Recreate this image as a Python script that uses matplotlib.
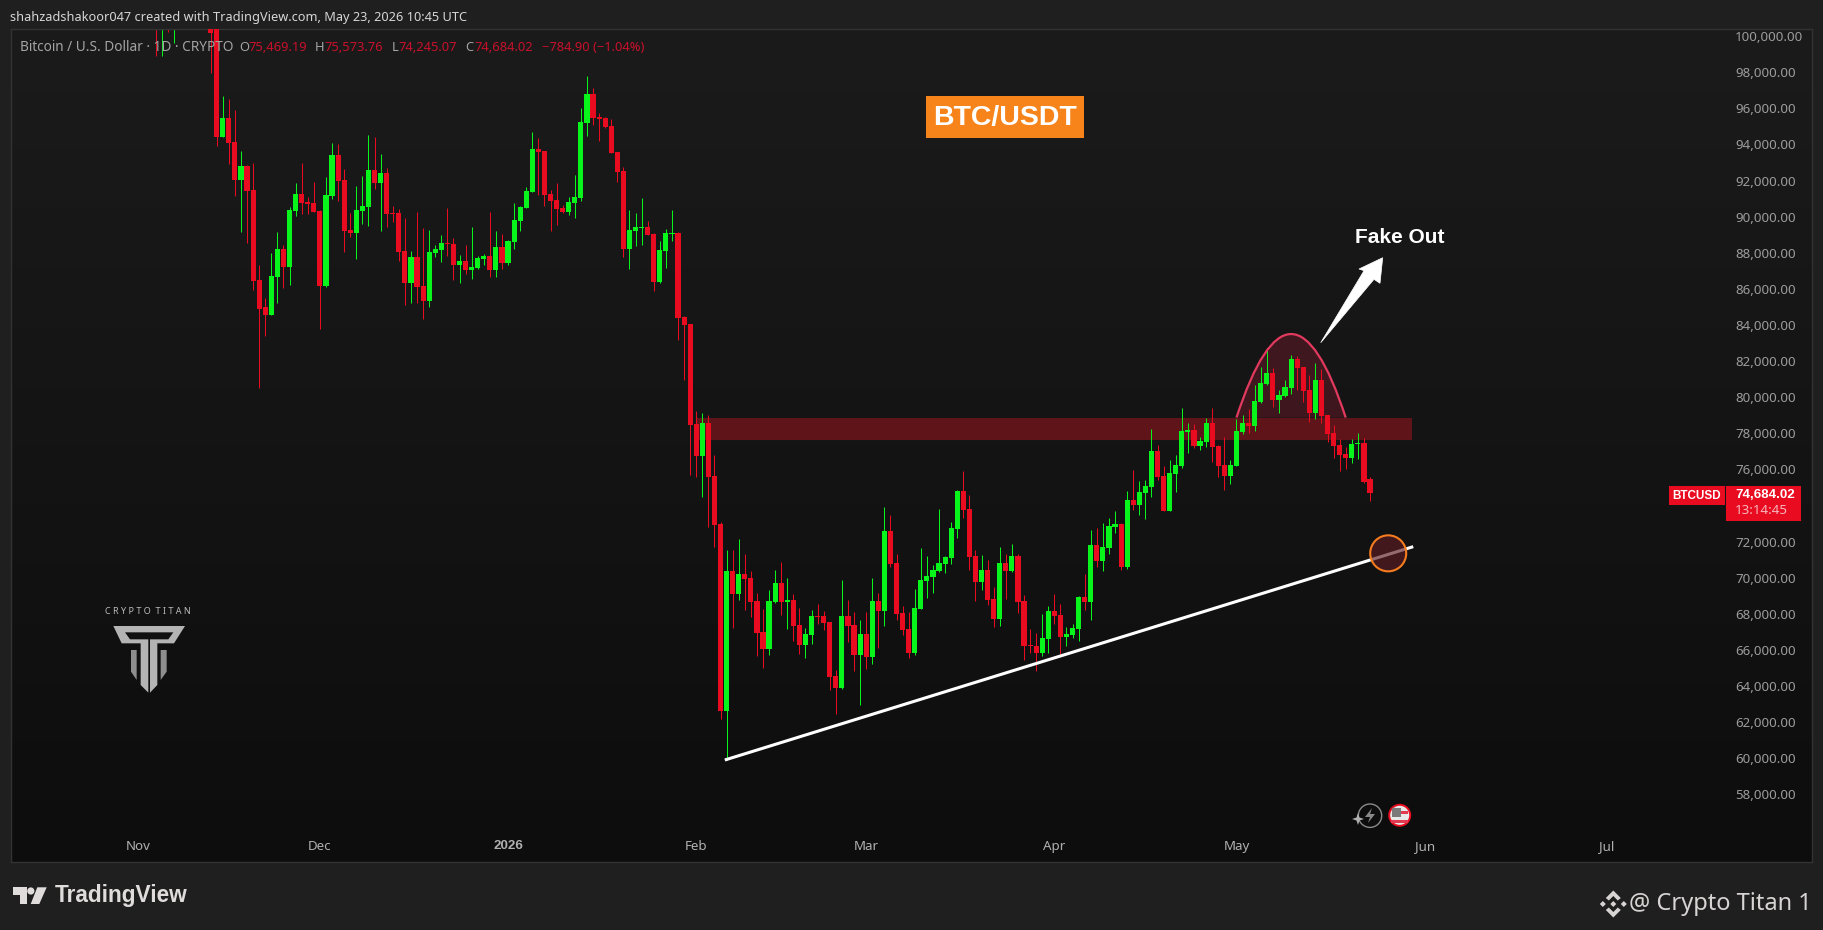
#!/usr/bin/env python
"""BTC daily candles with the fake out annotations, TradingView dark look."""

import numpy as np
import pandas as pd
import matplotlib
matplotlib.use("Agg")
import matplotlib.pyplot as plt
import matplotlib.dates as mdates
from matplotlib.patches import Circle, Ellipse, PathPatch, Polygon, Rectangle
from matplotlib.path import Path

plt.rcParams["font.family"] = ["Noto Sans", "DejaVu Sans"]
BOLD = {"family": "Liberation Sans", "fontweight": "bold"}

FIRST_DAY = "2025-11-04"

OPEN = [
    106500, 101500, 103900, 101300, 103300, 102300, 104700, 105900, 103000, 101700,
    100500, 94410, 95470, 94140, 92030, 92810, 91480, 86490, 85000, 84550,
    86660, 88210, 87210, 90310, 91260, 90810, 90760, 90310, 86160, 91150,
    93420, 92030, 89260, 89100, 90310, 90540, 92590, 91870, 92420, 90200,
    90200, 88100, 86320, 87770, 86160, 85330, 87990, 88150, 88540, 88490,
    87320, 87540, 87050, 87160, 87650, 87820, 87050, 88320, 87430, 88600,
    89760, 90480, 91370, 93750, 93640, 91260, 90920, 90480, 90260, 90760,
    91030, 95190, 96800, 95520, 95470, 95020, 93580, 92530, 88210, 89210,
    89370, 89430, 89040, 86380, 88100, 89040, 89100, 84440, 84050, 78520,
    76760, 78570, 75630, 72970, 62610, 70370, 69100, 70200, 69980, 68710,
    66990, 66050, 68650, 69710, 68650, 68760, 67380, 66270, 66820, 67880,
    67880, 67540, 64550, 63890, 67880, 67380, 65720, 66880, 65610, 68710,
    68150, 72590, 70810, 68040, 67160, 65830, 68260, 69820, 70040, 70370,
    70760, 71090, 72700, 74800, 73810, 71200, 69760, 70430, 68820, 67710,
    70810, 70370, 71200, 68710, 66270, 66220, 65830, 66600, 68150, 67930,
    66710, 66820, 67160, 68930, 68650, 71810, 70920, 71650, 72810, 72980,
    70590, 74300, 74030, 74690, 75030, 77020, 75630, 73700, 75750, 76190,
    78070, 78180, 77290, 77520, 78570, 77290, 76240, 75630, 76190, 78070,
    78570, 78400, 79730, 80730, 81340, 79840, 80070, 80510, 82120, 81670,
    80400, 79120, 80950, 79010, 78020, 77350, 76850, 76630, 77410, 77460,
    75469.19,
]
HIGH = [
    107300, 104500, 104100, 104000, 103400, 104800, 106600, 107500, 105300, 104000,
    101000, 96690, 96500, 95910, 93640, 92860, 92970, 87320, 85490, 87990,
    89150, 88430, 90540, 91870, 92970, 91090, 91920, 90370, 92200, 94080,
    94030, 92640, 90200, 91700, 92250, 94530, 94410, 93470, 92700, 90590,
    90430, 89930, 88100, 90260, 89370, 89260, 88430, 88980, 90480, 88820,
    87880, 88430, 89430, 87820, 87930, 90260, 89210, 89040, 88710, 90760,
    90590, 91640, 94690, 94360, 93640, 91480, 91870, 90650, 91090, 92310,
    96020, 97790, 97130, 95740, 95520, 95410, 93580, 92750, 90370, 90200,
    91030, 89760, 89100, 88650, 89320, 90370, 89150, 84500, 84050, 79240,
    79130, 79010, 76800, 73090, 71530, 71530, 72140, 71310, 70370, 69150,
    68260, 69320, 70430, 70870, 69980, 69100, 68320, 67210, 68210, 68540,
    68150, 67540, 64880, 69870, 68760, 68100, 67650, 68100, 69980, 69150,
    73920, 73470, 71310, 68430, 68100, 69370, 71640, 71200, 70700, 73810,
    71200, 73090, 74860, 75910, 74580, 71530, 71260, 70980, 69480, 71700,
    71310, 71870, 71310, 69040, 67160, 66940, 67990, 68430, 69100, 68540,
    67270, 67430, 68990, 70200, 72640, 72750, 73030, 73310, 73700, 73030,
    74800, 75970, 75360, 75410, 78240, 77350, 76190, 76520, 76800, 79400,
    78570, 78510, 77790, 78850, 79400, 77350, 77790, 76520, 78790, 79010,
    79340, 80670, 81670, 82720, 81620, 80400, 80950, 82340, 82280, 81670,
    81230, 81890, 81560, 79010, 78460, 77680, 77240, 77680, 78020, 77740,
    75573.76,
]
LOW = [
    98900, 98900, 100250, 99620, 101500, 101500, 104300, 102500, 100800, 97980,
    93920, 94410, 92920, 91150, 89150, 88540, 85940, 80490, 83390, 84550,
    85220, 86050, 86210, 90040, 90150, 90150, 90260, 83780, 86100, 90980,
    90870, 88040, 88870, 87650, 89590, 89480, 91530, 89210, 89430, 89700,
    87540, 85110, 85220, 85220, 84330, 85000, 87770, 87490, 87820, 86490,
    86320, 86820, 86550, 87100, 87320, 86660, 86660, 87100, 87320, 88210,
    89210, 90480, 91370, 91200, 90590, 89210, 89540, 90200, 90090, 89930,
    90870, 94470, 95080, 94190, 94910, 93530, 91920, 87770, 87100, 88380,
    88430, 88980, 85880, 86320, 87160, 88650, 83170, 80950, 75690, 75580,
    74470, 72810, 71700, 62170, 59900, 67210, 68760, 68210, 67820, 65660,
    65000, 65720, 68600, 67930, 67160, 66490, 65770, 65550, 66330, 67430,
    67100, 63780, 62450, 63830, 66440, 64830, 62950, 64940, 65220, 66100,
    67320, 70590, 67660, 66820, 65550, 65720, 68260, 68870, 69150, 70310,
    70260, 70760, 72200, 73310, 70430, 68710, 69320, 68490, 67270, 67320,
    68820, 70320, 68040, 65440, 65830, 64830, 65660, 65830, 67430, 65660,
    66220, 66660, 66490, 68210, 67660, 70590, 70370, 71310, 72480, 70430,
    70480, 73750, 73470, 73250, 74470, 75410, 73700, 73700, 74750, 76080,
    76910, 77180, 77070, 77240, 76410, 75580, 74860, 75190, 76190, 77960,
    78020, 78130, 79680, 80670, 79460, 79120, 80010, 80180, 80400, 79730,
    78620, 78790, 78570, 77520, 76630, 75910, 76020, 76350, 76570, 75240,
    74245.07,
]
CLOSE = [
    101500, 103900, 101300, 103300, 102300, 104700, 105900, 103000, 101700, 100200,
    94410, 95470, 94080, 92030, 92810, 91420, 86440, 84880, 84550, 86710,
    88210, 87210, 90370, 91260, 90760, 90700, 90260, 86160, 91200, 93420,
    91980, 89210, 89100, 90370, 90590, 92590, 91870, 92420, 90150, 90150,
    88040, 86320, 87770, 86100, 85330, 88040, 88210, 88540, 88490, 87320,
    87540, 87050, 87210, 87710, 87820, 87050, 88320, 87430, 88650, 89820,
    90540, 91420, 93750, 93580, 91200, 90870, 90430, 90260, 90810, 91090,
    95250, 96800, 95470, 95410, 94950, 93530, 92480, 88210, 89260, 89430,
    89430, 88980, 86380, 88150, 89100, 89100, 84390, 84000, 78460, 76760,
    78570, 75580, 72920, 62610, 70370, 69100, 70200, 69930, 68650, 66930,
    66050, 68710, 69710, 68650, 68760, 67320, 66270, 66880, 67880, 67820,
    67490, 64500, 63890, 67880, 67320, 65720, 66880, 65610, 68710, 68150,
    72590, 70760, 67990, 67100, 65830, 68320, 69870, 70090, 70430, 70810,
    71150, 72750, 74800, 73750, 71150, 69760, 70430, 68760, 67710, 70810,
    70370, 71200, 68650, 66220, 66220, 65830, 66660, 68150, 67880, 66710,
    66880, 67210, 68930, 68650, 71810, 70920, 71700, 72860, 72980, 70590,
    74300, 74030, 74750, 75080, 77020, 75580, 73700, 75800, 76240, 78130,
    78180, 77290, 77570, 78570, 77240, 76190, 75630, 76240, 78130, 78570,
    78400, 79790, 80790, 81340, 79840, 80120, 80560, 82120, 81620, 80340,
    79120, 80950, 78960, 77960, 77290, 76800, 76630, 77410, 77460, 75300,
    74684.02,
]

# 74,000 sits behind the price tag in the screenshot
PRICE_TICKS = [p for p in range(58000, 100001, 2000) if p != 74000]
MONTH_TICKS = ["2025-11-01", "2025-12-01", "2026-01-01", "2026-02-01", "2026-03-01",
               "2026-04-01", "2026-05-01", "2026-06-01", "2026-07-01"]
MONTH_LABELS = ["Nov", "Dec", "2026", "Feb", "Mar", "Apr", "May", "Jun", "Jul"]

ZONE_DAYS = ("2026-02-01", "2026-05-30")
ZONE_PRICES = (77630, 78850)
TREND_DAYS = ("2026-02-05 17:00", "2026-05-30 03:00")
TREND_PRICES = (59900, 71720)
ARC_DAYS = ("2026-05-01", "2026-05-10", "2026-05-19")
ARC_PRICES = (78870, 88130, 78870)
CIRCLE_DAY = "2026-05-26"
CIRCLE_PRICE = 71350

RED = "#e90b20"
GREEN = "#07f51b"
W, H = 1824, 930
PANE = (11, 29, 1812, 862)  # left, top, right, bottom in pixels


def num(day):
    return mdates.date2num(pd.Timestamp(day))


fig = plt.figure(figsize=(W / 100, H / 100), dpi=100, facecolor="#1f1f1f")
ax = fig.add_axes([PANE[0] / W, 1 - PANE[3] / H, (PANE[2] - PANE[0]) / W, (PANE[3] - PANE[1]) / H])

dates = pd.date_range(FIRST_DAY, periods=len(OPEN))
x = mdates.date2num(dates)
o, h, l, c = map(np.array, (OPEN, HIGH, LOW, CLOSE))
colors = [GREEN if up else RED for up in c >= o]

# 6.07 px per day and 55.4 USD per px, anchored on the Nov 14 candle
x0 = num("2025-11-14")
xlim = (x0 + (PANE[0] - 216.7) / 6.07, x0 + (PANE[2] - 216.7) / 6.07)
ylim = (70000 - (PANE[3] - 577.7) * 55.4, 70000 + (577.7 - PANE[1]) * 55.4)

# background gets darker towards the bottom
ax.imshow(np.linspace(0, 1, 256)[:, None], cmap=matplotlib.colors.LinearSegmentedColormap.from_list(
    "bg", ["#1b1b1b", "#0d0d0d"]), aspect="auto", extent=(*xlim, *ylim), zorder=0)

ax.add_patch(Rectangle((num(ZONE_DAYS[0]), ZONE_PRICES[0]), num(ZONE_DAYS[1]) - num(ZONE_DAYS[0]),
                       ZONE_PRICES[1] - ZONE_PRICES[0], facecolor="#5f141a", edgecolor="none", zorder=1))

arc = Path(list(zip([num(d) for d in ARC_DAYS], ARC_PRICES)), [Path.MOVETO, Path.CURVE3, Path.CURVE3])
ax.add_patch(PathPatch(arc, facecolor="#e6204a", alpha=0.2, edgecolor="none", zorder=1.5))
ax.add_patch(PathPatch(arc, facecolor="none", edgecolor="#e23a5e", lw=1.6, zorder=3.5))

ax.vlines(x, l, h, colors=colors, linewidth=0.72, zorder=2)
ax.bar(x, np.abs(c - o), bottom=np.minimum(o, c), width=0.85, color=colors, linewidth=0, zorder=3)

ax.plot([num(d) for d in TREND_DAYS], TREND_PRICES, color="white", lw=2.2, solid_capstyle="butt", zorder=4)
ax.add_patch(Ellipse((num(CIRCLE_DAY), CIRCLE_PRICE), 36 / 6.07, 36 * 55.4, facecolor=(0.36, 0.11, 0.14, 0.65),
                     edgecolor="none", zorder=5))
ax.add_patch(Ellipse((num(CIRCLE_DAY), CIRCLE_PRICE), 36 / 6.07, 36 * 55.4, facecolor="none",
                     edgecolor="#f57c1f", lw=1.5, zorder=5))

ax.set_xlim(xlim)
ax.set_ylim(ylim)
ax.yaxis.tick_right()
ax.set_yticks(PRICE_TICKS)
ax.set_yticklabels([f"{p:,.2f}" for p in PRICE_TICKS])
ax.set_xticks([num(d) for d in MONTH_TICKS])
ax.set_xticklabels(MONTH_LABELS)
ax.tick_params(axis="y", length=0, pad=-55.5, labelsize=9.6, labelcolor="#9c9c9c")
ax.tick_params(axis="x", length=0, pad=-16, labelsize=9.6, labelcolor="#b0b0b0")
ax.get_xticklabels()[2].set_family("Liberation Sans")
ax.get_xticklabels()[2].set_fontweight("bold")
ax.grid(False)
for s in ax.spines.values():
    s.set_color("#333333")
    s.set_linewidth(1)

# overlay in pixel coordinates for the screenshot furniture
ov = fig.add_axes([0, 0, 1, 1], facecolor="none")
ov.set_xlim(0, W)
ov.set_ylim(H, 0)
ov.axis("off")

ov.text(10.5, 17, "shahzadshakoor047 created with TradingView.com, May 23, 2026 10:45 UTC",
        color="#d6d6d6", fontsize=9.2, va="center")

ov.text(20, 47.5, "Bitcoin / U.S. Dollar · 1D · CRYPTO", color="#a4a4a4", fontsize=9.8, va="center")
header = [(239, "O", "#a4a4a4"), (248, "75,469.19", "#c9102a"), (315, "H", "#a4a4a4"), (324.5, "75,573.76", "#c9102a"),
          (391.5, "L", "#a4a4a4"), (398.7, "74,245.07", "#c9102a"), (465.6, "C", "#a4a4a4"), (474, "74,684.02", "#c9102a"),
          (542, "−784.90 (−1.04%)", "#c9102a")]
for px, txt, col in header:
    ov.text(px, 47.5, txt, color=col, fontsize=9.3, va="center")

ov.add_patch(Rectangle((926, 96), 158, 41.7, facecolor="#f7841a", edgecolor="none"))
ov.text(1005, 117.5, "BTC/USDT", color="white", fontsize=20.5, ha="center", va="center", **BOLD)

ov.text(1400, 237, "Fake Out", color="white", fontsize=15, ha="center", va="center", **BOLD)
ov.add_patch(Polygon([(1320.7, 342.7), (1364, 270.7), (1359, 269), (1382.7, 257.7), (1380, 283.3),
                      (1374, 279.3)], closed=True, facecolor="white", edgecolor="white", lw=0.5))

# price tag
ov.add_patch(Rectangle((1669, 486), 56, 19, facecolor=RED, edgecolor="none"))
ov.add_patch(Rectangle((1726, 486), 75, 34.7, facecolor=RED, edgecolor="none"))
ov.text(1697, 496, "BTCUSD", color="white", fontsize=8.4, ha="center", va="center", **BOLD)
ov.text(1735, 494.5, "74,684.02", color="white", fontsize=9.6, va="center", **BOLD)
ov.text(1735, 510.5, "13:14:45", color="#f7b7bf", fontsize=9.6, va="center")

# watermark
ov.text(147.7, 611, "C R Y P T O  T I T A N", color="#b9b9b9", fontsize=6.5, ha="center", va="center")
LOGO = [
    [(40, 78), (147, 78), (147, 97), (75, 97), (90, 118), (145, 118), (145, 278), (122, 255), (122, 130), (65, 130)],
    [(255, 78), (147, 78), (147, 97), (220, 97), (205, 118), (150, 118), (150, 278), (172, 255), (172, 130), (222, 130)],
    [(93, 150), (110, 150), (110, 240), (93, 215)],
    [(200, 150), (182, 150), (182, 240), (200, 215)],
]
for i, pts in enumerate(LOGO):
    ov.add_patch(Polygon([(100 + a / 3, 600 + b / 3) for a, b in pts], closed=True, edgecolor="none",
                         facecolor="#b4b4b4" if i < 2 else "#8e8e8e"))

# TradingView logo
tv = "#e0dcdc"
ov.add_patch(Polygon([(12.7, 887.3), (27.3, 887.3), (27.3, 904), (20, 904), (20, 895), (12.7, 895)], facecolor=tv))
ov.add_patch(Circle((30.8, 891), 3.6, facecolor=tv, edgecolor="none"))
ov.add_patch(Polygon([(37.3, 887.3), (46.7, 887.3), (39.3, 904), (30.7, 904)], facecolor=tv))
ov.text(54.5, 895.5, "TradingView", color=tv, fontsize=16.3, va="center", **BOLD)

# credit on the right
ov.text(1811.5, 904, "@ Crypto Titan 1", color="#d8d4d4", fontsize=17, ha="right", va="center")
cx, cy = 1613.3, 904
for dx, dy in [(-10.5, 0), (10.5, 0), (0, 0)]:
    ov.add_patch(Polygon([(cx + dx - 3, cy), (cx + dx, cy - 3), (cx + dx + 3, cy), (cx + dx, cy + 3)],
                         facecolor="#d8d4d4", edgecolor="none"))
for sign in (1, -1):
    ov.add_patch(Polygon([(cx - 7.5, cy - sign * 6), (cx, cy - sign * 13.5), (cx + 7.5, cy - sign * 6),
                          (cx + 4.5, cy - sign * 3.5), (cx, cy - sign * 8), (cx - 4.5, cy - sign * 3.5)],
                         facecolor="#d8d4d4", edgecolor="none"))

# small badges under the chart
ov.add_patch(Circle((1370, 815.7), 11.7, facecolor="none", edgecolor="#8a8a8a", lw=1))
ov.add_patch(Polygon([(1372, 808), (1365, 817), (1370, 817), (1368, 823), (1375, 814), (1370, 814)], facecolor="#8a8a8a"))
ov.add_patch(Polygon([(1358, 813), (1359.5, 817.5), (1364, 819), (1359.5, 820.5), (1358, 825), (1356.5, 820.5),
                      (1352, 819), (1356.5, 817.5)], facecolor="#b0b0b0", edgecolor="none"))
ov.add_patch(Circle((1399.7, 815.3), 10.5, facecolor="#e8e8e8", edgecolor=RED, lw=1.4))
ov.add_patch(Rectangle((1392, 808), 9, 9, facecolor="#7a7a7a"))
ov.add_patch(Rectangle((1401, 811), 7, 3, facecolor="#e23a50"))
ov.add_patch(Rectangle((1391, 820), 17, 2.5, facecolor="#e23a50"))

fig.savefig("out.png", dpi=100, facecolor=fig.get_facecolor())
plt.close(fig)
